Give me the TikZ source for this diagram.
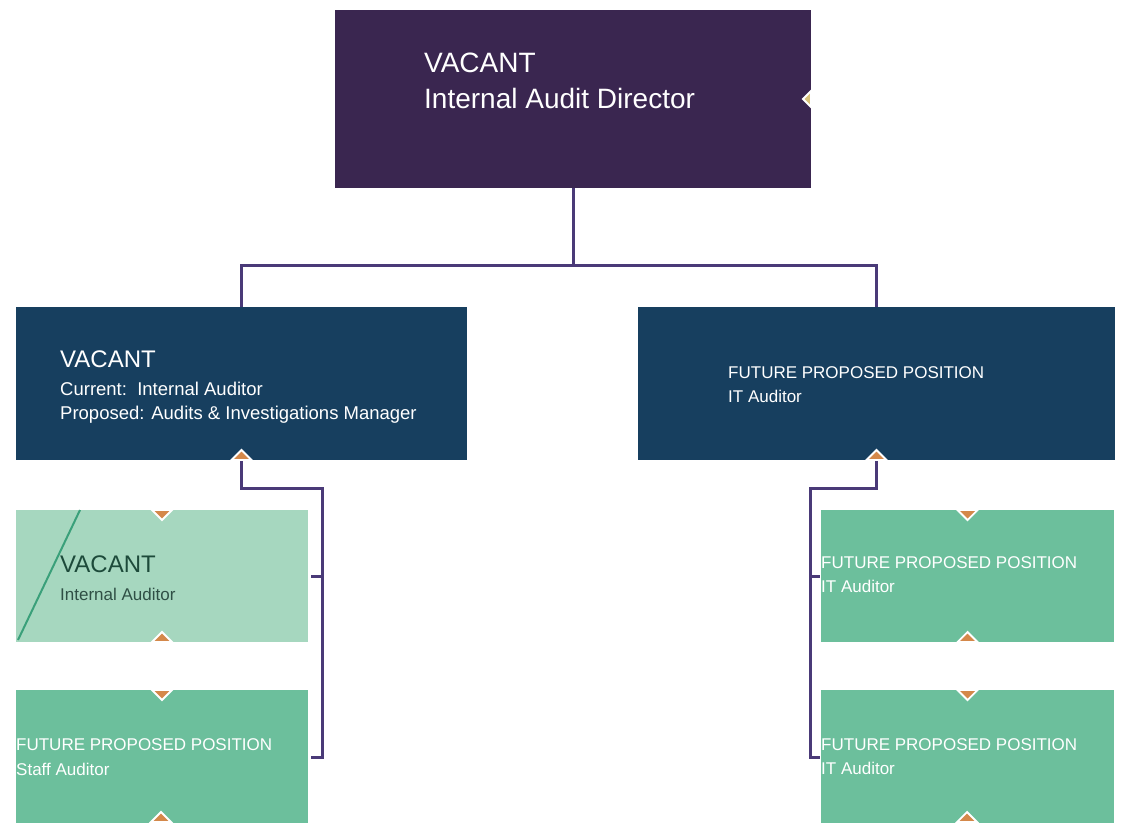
\documentclass[tikz,border=0pt]{standalone}
\usepackage{fontspec}
\setmainfont{Liberation Sans}
\definecolor{dirpurple}{HTML}{3A2650}
\definecolor{mgrblue}{HTML}{173F5F}
\definecolor{palegreen}{HTML}{A6D7BF}
\definecolor{midgreen}{HTML}{6CBF9C}
\definecolor{linkpurple}{HTML}{4A3A78}
\definecolor{notchorange}{HTML}{D4884A}
\definecolor{notchyellow}{HTML}{D8C27A}
\definecolor{darkgreentext}{HTML}{1D4A3A}
\definecolor{greytext}{HTML}{2F4F45}
\definecolor{stripe}{HTML}{3AA07A}
\tikzset{
  box/.style={rectangle, anchor=north west, inner sep=0pt, outer sep=0pt, draw=none},
  conn/.style={draw=linkpurple, line width=3pt},
  lbl/.style={anchor=base west, inner sep=0pt, align=left},
  notch/.style={fill=notchorange, draw=white, line width=1.8pt, line join=miter},
  notchdown/.pic={\filldraw[notch] (-10,0) -- (0,10) -- (10,0) -- cycle;},
  notchup/.pic={\filldraw[notch] (-10,0) -- (0,-10) -- (10,0) -- cycle;},
  notchleft/.pic={\filldraw[notch, fill=notchyellow] (0,-8) -- (-8,0) -- (0,8) -- cycle;}
}
\begin{document}
\begin{tikzpicture}[x=1pt,y=-1pt]
\useasboundingbox (0,0) rectangle (1126,822);
\fill[white] (0,0) rectangle (1126,822);

% boxes
\node[box, fill=dirpurple, minimum width=476pt, minimum height=178pt] (dir) at (335,10) {};
\node[box, fill=mgrblue, minimum width=451pt, minimum height=153pt] (mgr) at (16,307) {};
\node[box, fill=mgrblue, minimum width=477pt, minimum height=153pt] (itm) at (638,307) {};
\node[box, fill=palegreen, minimum width=292pt, minimum height=132pt] (ia1) at (16,510) {};
\node[box, fill=midgreen, minimum width=292pt, minimum height=140pt] (sa) at (16,690) {};
\node[box, fill=midgreen, minimum width=293pt, minimum height=132pt] (it1) at (821,510) {};
\node[box, fill=midgreen, minimum width=293pt, minimum height=140pt] (it2) at (821,690) {};

% accent stripe on the internal auditor box
\draw[stripe, line width=2pt] (80,510) -- (18,640);

% connectors
\coordinate (hub) at (573,265);
\coordinate (lbus) at (322,488);
\coordinate (rbus) at (810,488);
\coordinate (sa-in) at (311,757);
\coordinate (it2-in) at (820,757);
\coordinate (ia1-in) at (311,576);
\coordinate (it1-in) at (820,576);
\draw[conn] (dir.south) -- (hub);
\draw[conn] (hub) -| (mgr.north);
\draw[conn] (hub) -| (itm.north);
\draw[conn] (mgr.south) |- (lbus) |- (ia1-in);
\draw[conn] (lbus) |- (sa-in);
\draw[conn] (itm.south) |- (rbus) |- (it1-in);
\draw[conn] (rbus) |- (it2-in);

% notches
\pic at (dir.east) {notchleft};
\pic at (mgr.south) {notchup};
\pic at (itm.south) {notchup};
\pic at (ia1.north) {notchdown};
\pic at (ia1.south) {notchup};
\pic at (sa.north) {notchdown};
\pic at (it1.north) {notchdown};
\pic at (it1.south) {notchup};
\pic at (it2.north) {notchdown};
\pic at (161,822) {notchup};
\pic at (967,822) {notchup};

% texts
\node[lbl, text=white, font=\fontsize{28}{32}\selectfont] (dirA) at (424,72) {VACANT};
\node[lbl, text=white, font=\fontsize{28}{32}\selectfont] (dirB) at (424,108) {Internal Audit Director};

\node[lbl, text=white, font=\fontsize{24}{28}\selectfont] (mgrA) at (60,367) {VACANT};
\node[lbl, text=white, font=\fontsize{18.5}{22}\selectfont] (mgrB) at (60,395) {Current:\ \ Internal Auditor};
\node[lbl, text=white, font=\fontsize{18.5}{22}\selectfont] (mgrC) at (60,419) {Proposed: Audits \& Investigations Manager};

\node[lbl, text=white, font=\fontsize{17}{22}\selectfont] (itmA) at (728,378) {FUTURE PROPOSED POSITION};
\node[lbl, text=white, font=\fontsize{17}{22}\selectfont] (itmB) at (728,402) {IT Auditor};

\node[lbl, text=darkgreentext, font=\fontsize{24}{28}\selectfont] (ia1A) at (60,572) {VACANT};
\node[lbl, text=greytext, font=\fontsize{17}{22}\selectfont] (ia1B) at (60,600) {Internal Auditor};

\node[lbl, text=white, font=\fontsize{17}{22}\selectfont] (saA) at (16,750) {FUTURE PROPOSED POSITION};
\node[lbl, text=white, font=\fontsize{17}{22}\selectfont] (saB) at (16,775) {Staff Auditor};

\node[lbl, text=white, font=\fontsize{17}{22}\selectfont] (it1A) at (821,568) {FUTURE PROPOSED POSITION};
\node[lbl, text=white, font=\fontsize{17}{22}\selectfont] (it1B) at (821,592) {IT Auditor};

\node[lbl, text=white, font=\fontsize{17}{22}\selectfont] (it2A) at (821,750) {FUTURE PROPOSED POSITION};
\node[lbl, text=white, font=\fontsize{17}{22}\selectfont] (it2B) at (821,774) {IT Auditor};
\end{tikzpicture}
\end{document}
